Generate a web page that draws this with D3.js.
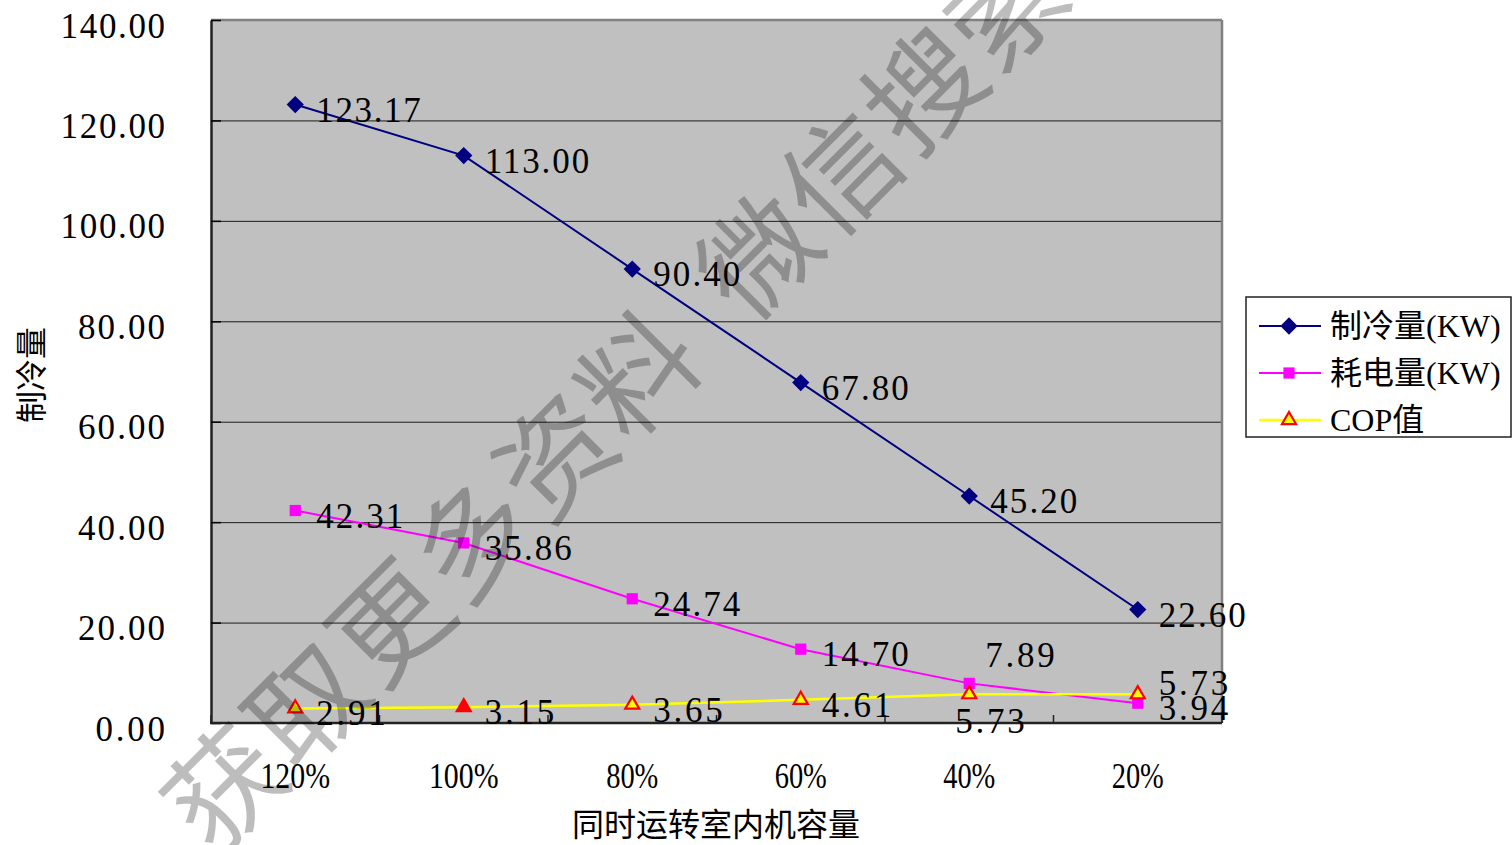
<!DOCTYPE html>
<html>
<head>
<meta charset="utf-8">
<script src="https://cdn.jsdelivr.net/npm/d3@7"></script>
<style>
  html, body { margin: 0; padding: 0; background: #ffffff; }
  svg { display: block; }
</style>
</head>
<body>
<svg id="chart" width="1512" height="845"></svg>
<script>
// Load ratio of indoor units running at the same time
const categories = ["120%", "100%", "80%", "60%", "40%", "20%"];
// 制冷量 (KW)
const cooling = [123.17, 113.00, 90.40, 67.80, 45.20, 22.60];
// 耗电量 (KW)
const power = [42.31, 35.86, 24.74, 14.70, 7.89, 3.94];
// COP值
const cop = [2.91, 3.15, 3.65, 4.61, 5.73, 5.73];
// Value axis ticks
const yTicks = [0, 20, 40, 60, 80, 100, 120, 140];

const seriesNames = ["制冷量(KW)", "耗电量(KW)", "COP值"];

const svg = d3.select("#chart");
const plot = { left: 211, right: 1222, top: 20, bottom: 723 };

const x = d3.scalePoint().domain(categories).range([plot.left, plot.right]).padding(0.5);
const y = d3.scaleLinear().domain([0, 140]).range([plot.bottom, plot.top]);
const step = x.step();

const numFont = "'Liberation Serif', 'DejaVu Serif', serif";
const mixFont = "'Liberation Serif', 'Noto Sans CJK SC', serif";
const cjkFont = "'Noto Sans CJK SC', sans-serif";
const NUM_SIZE = 35;
const CHAR_W = 17.4;

// Spread number glyphs to a fixed per-character advance
function fitNumber(sel, adjust) {
  sel.attr("textLength", function () { return this.textContent.length * CHAR_W; })
     .attr("lengthAdjust", adjust || "spacing");
}

// Plot background
svg.append("rect")
  .attr("x", plot.left).attr("y", plot.top)
  .attr("width", plot.right - plot.left).attr("height", plot.bottom - plot.top)
  .attr("fill", "#c0c0c0");

// Horizontal gridlines
const grid = svg.append("g").attr("transform", `translate(${plot.left},0)`)
  .call(d3.axisLeft(y).tickValues(yTicks.filter(v => v > 0)).tickSize(-(plot.right - plot.left)).tickFormat(""));
grid.select(".domain").remove();
grid.selectAll("line").attr("stroke", "#1a1a1a").attr("stroke-width", 1);

// Frame: top/right in grey, axes in dark
svg.append("line").attr("x1", plot.left).attr("x2", plot.right).attr("y1", plot.top).attr("y2", plot.top)
  .attr("stroke", "#808080").attr("stroke-width", 2.5);
svg.append("line").attr("x1", plot.right).attr("x2", plot.right).attr("y1", plot.top).attr("y2", plot.bottom)
  .attr("stroke", "#808080").attr("stroke-width", 2.5);

// Y axis with inward ticks
const yAxis = svg.append("g").attr("transform", `translate(${plot.left},0)`)
  .call(d3.axisLeft(y).tickValues(yTicks).tickSizeInner(-10).tickSizeOuter(0).tickPadding(46)
    .tickFormat(d => d.toFixed(2)));
yAxis.select(".domain").attr("stroke", "#222").attr("stroke-width", 2.5);
yAxis.selectAll(".tick line").attr("stroke", "#000").attr("stroke-width", 1.5);
yAxis.selectAll(".tick text")
  .attr("font-family", numFont).attr("font-size", NUM_SIZE).attr("fill", "#000")
  .attr("dy", null).attr("y", 17)
  .call(fitNumber);

// X axis: inward ticks at category boundaries, labels centred under points
const boundaries = d3.range(categories.length + 1).map(i => plot.left + i * step);
svg.append("g").selectAll("line").data(boundaries).join("line")
  .attr("x1", d => d).attr("x2", d => d)
  .attr("y1", plot.bottom).attr("y2", plot.bottom - 8)
  .attr("stroke", "#222").attr("stroke-width", 1.5);
svg.append("line").attr("x1", plot.left - 1).attr("x2", plot.right).attr("y1", plot.bottom).attr("y2", plot.bottom)
  .attr("stroke", "#222").attr("stroke-width", 2.5);

svg.append("g").selectAll("text").data(categories).join("text")
  .attr("x", d => x(d)).attr("y", 788)
  .attr("text-anchor", "middle")
  .attr("font-family", numFont).attr("font-size", NUM_SIZE).attr("fill", "#000")
  .text(d => d)
  .call(fitNumber, "spacingAndGlyphs");

// Axis titles
svg.append("text")
  .attr("x", 716).attr("y", 822)
  .attr("text-anchor", "middle").attr("dominant-baseline", "central")
  .attr("font-family", cjkFont).attr("font-size", 32).attr("fill", "#000")
  .text("同时运转室内机容量");
svg.append("text")
  .attr("transform", "translate(29,375) rotate(-90)")
  .attr("text-anchor", "middle").attr("dominant-baseline", "central")
  .attr("font-family", cjkFont).attr("font-size", 32).attr("fill", "#000")
  .text("制冷量");

// Marker shapes
const diamond = d3.symbol().type(d3.symbolDiamond2).size(190);
const square = d3.symbol().type(d3.symbolSquare2).size(160);
const triangle = d3.symbol().type(d3.symbolTriangle2).size(140);

const line = d3.line().x((d, i) => x(categories[i])).y(d => y(d));

const series = [
  { values: cooling, color: "#000080", width: 2, symbol: diamond, fill: () => "#000080", stroke: () => "none", sw: 0 },
  { values: power, color: "#ff00ff", width: 2, symbol: square, fill: () => "#ff00ff", stroke: () => "none", sw: 0 },
  { values: cop, color: "#ffff00", width: 2.5, symbol: triangle, fill: i => (i === 1 ? "#ff0000" : "#ffff00"), stroke: () => "#ff0000", sw: 2.2 }
];

series.forEach(s => {
  const g = svg.append("g");
  g.append("path").datum(s.values)
    .attr("d", line).attr("fill", "none")
    .attr("stroke", s.color).attr("stroke-width", s.width);
  g.selectAll("path.m").data(s.values).join("path")
    .attr("class", "m")
    .attr("transform", (d, i) => `translate(${x(categories[i])},${y(d)})`)
    .attr("d", s.symbol)
    .attr("fill", (d, i) => s.fill(i))
    .attr("stroke", (d, i) => s.stroke(i))
    .attr("stroke-width", s.sw);
});

// Data labels: left edge offset and baseline offset from the point
const defaultOffset = [21, 17];
const labelOffsets = [
  [],
  [null, null, null, null, [16, -16], null],
  [null, null, null, null, [-14, 39], [21, 1]]
];

const labels = svg.append("g");
series.forEach((s, si) => {
  s.values.forEach((v, i) => {
    const off = (labelOffsets[si] && labelOffsets[si][i]) || defaultOffset;
    labels.append("text")
      .attr("x", x(categories[i]) + off[0])
      .attr("y", y(v) + off[1])
      .attr("font-family", numFont).attr("font-size", NUM_SIZE).attr("fill", "#000")
      .text(v.toFixed(2))
      .call(fitNumber);
  });
});

// Legend
const legend = svg.append("g").attr("transform", "translate(1246,297)");
legend.append("rect").attr("x", 0).attr("y", 0).attr("width", 265).attr("height", 140)
  .attr("fill", "#ffffff").attr("stroke", "#222").attr("stroke-width", 1.5);
series.forEach((s, i) => {
  const ry = 29 + i * 47;
  legend.append("line").attr("x1", 13).attr("x2", 75).attr("y1", ry).attr("y2", ry)
    .attr("stroke", s.color).attr("stroke-width", s.width);
  legend.append("path").attr("transform", `translate(43,${ry})`)
    .attr("d", s.symbol)
    .attr("fill", s.fill(0)).attr("stroke", s.stroke(0)).attr("stroke-width", s.sw);
  legend.append("text").attr("x", 84).attr("y", ry)
    .attr("dominant-baseline", "central")
    .attr("font-family", mixFont).attr("font-size", 32).attr("fill", "#000")
    .text(seriesNames[i]);
});

// Diagonal overlay text
const wm = svg.append("g").attr("pointer-events", "none");
const wmStyle = t => t.attr("font-family", cjkFont).attr("font-size", 114)
  .attr("letter-spacing", 3).attr("fill", "#000").attr("fill-opacity", 0.26);
wm.append("text").attr("transform", "translate(214,858) rotate(-45)").text("获取更多资料").call(wmStyle);
wm.append("text").attr("transform", "translate(748,326) rotate(-45)").text("微信搜索").call(wmStyle);
</script>
</body>
</html>
